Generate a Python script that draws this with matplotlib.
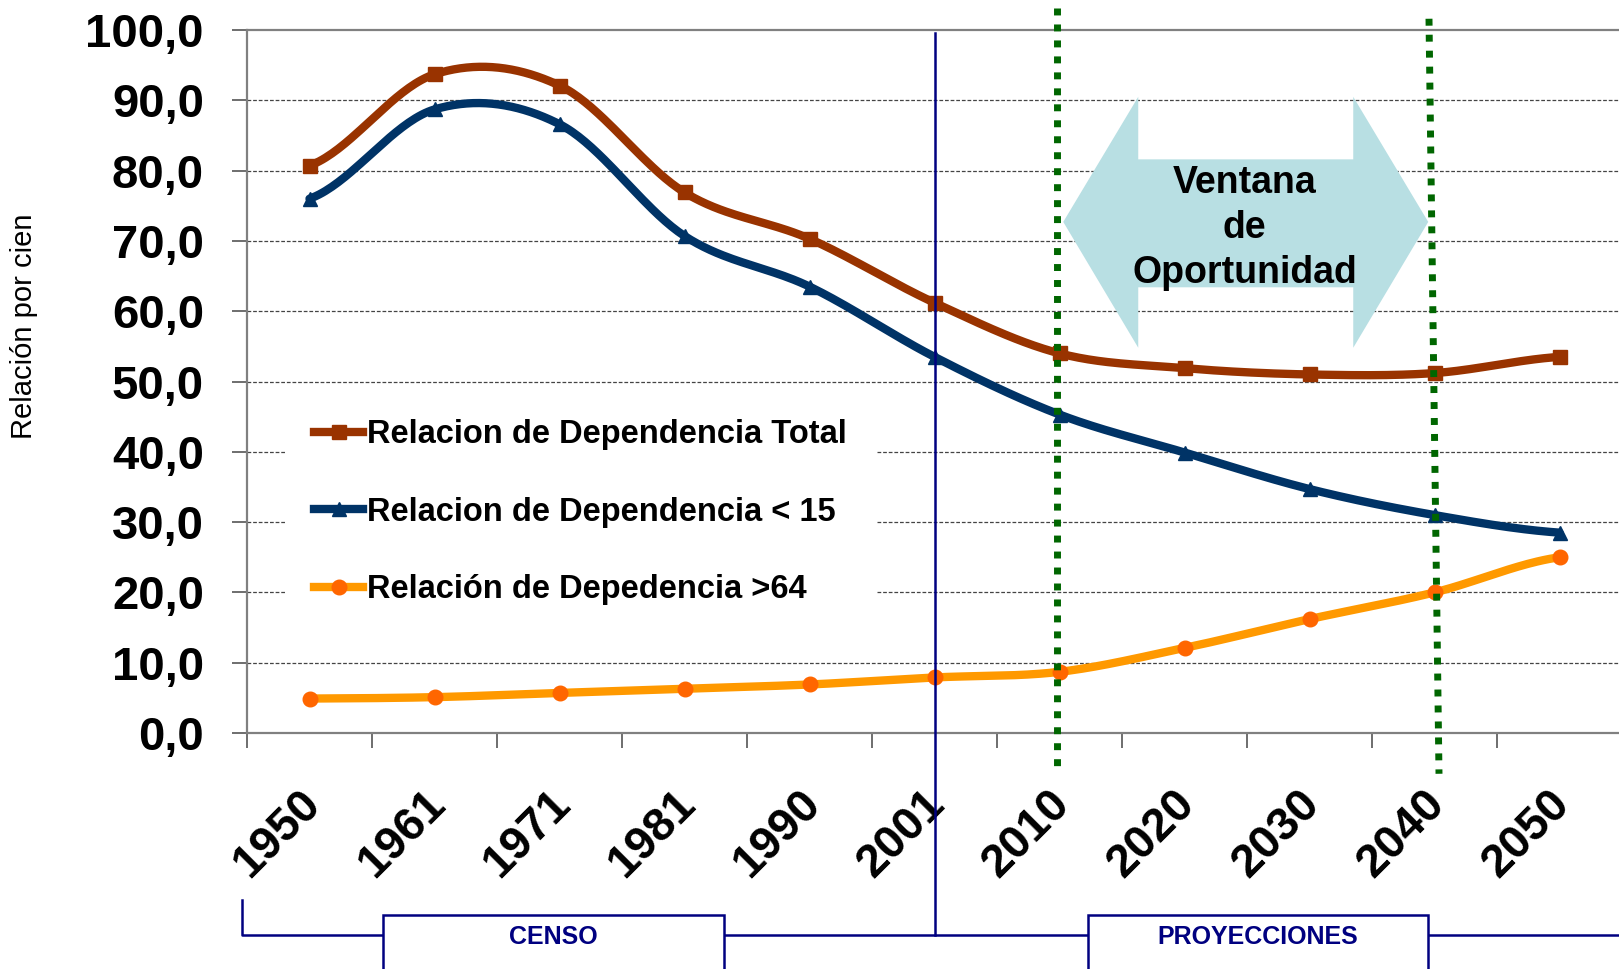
import numpy as np
import matplotlib
matplotlib.use("Agg")
import matplotlib.pyplot as plt
from matplotlib import transforms
from matplotlib.patches import Polygon, Rectangle
from matplotlib.lines import Line2D

plt.rcParams['font.family'] = ['Liberation Sans', 'DejaVu Sans']

# datos
anios = ['1950', '1961', '1971', '1981', '1990', '2001', '2010', '2020', '2030', '2040', '2050']
total = [80.7, 93.7, 92.1, 76.9, 70.3, 61.2, 54.0, 51.9, 51.0, 51.2, 53.5]
menor15 = [76.0, 88.7, 86.6, 70.7, 63.5, 53.5, 45.3, 39.9, 34.7, 31.0, 28.5]
mayor64 = [4.9, 5.1, 5.7, 6.3, 6.9, 7.9, 8.7, 12.1, 16.2, 20.0, 25.0]
yticks = [0, 10, 20, 30, 40, 50, 60, 70, 80, 90, 100]
ylabels = ['0,0', '10,0', '20,0', '30,0', '40,0', '50,0', '60,0', '70,0', '80,0', '90,0', '100,0']
nombres = ['Relacion de Dependencia Total', 'Relacion de Dependencia < 15', 'Relación de Depedencia >64']


def suavizar(v, n=40):
    # curva suavizada tipo excel (bezier con tangentes catmull-rom)
    v = np.asarray(v, float)
    p = np.concatenate([[v[0]], v, [v[-1]]])
    xs, ys = [], []
    t = np.linspace(0, 1, n)
    for i in range(len(v) - 1):
        b0 = p[i + 1]
        b3 = p[i + 2]
        b1 = b0 + (p[i + 2] - p[i]) / 6
        b2 = b3 - (p[i + 3] - p[i + 1]) / 6
        yy = (1 - t)**3 * b0 + 3 * t * (1 - t)**2 * b1 + 3 * t**2 * (1 - t) * b2 + t**3 * b3
        xs.append(i + t)
        ys.append(yy)
    return np.concatenate(xs), np.concatenate(ys)


fig = plt.figure(figsize=(16.19, 9.69), dpi=100)
ax = fig.add_axes([247/1619, 236/969, 1375/1619, 703/969])
x = np.arange(len(anios))

series = [(total, '#993300', '#993300', 's', 10.5),
          (menor15, '#003366', '#003366', '^', 10.5),
          (mayor64, '#FF9900', '#FF6600', 'o', 10.5)]
handles = []
for (vals, col, mcol, mk, ms), nom in zip(series, nombres):
    sx, sy = suavizar(vals)
    ax.plot(sx, sy, color=col, lw=6, solid_capstyle='round', zorder=5)
    ax.plot(x, vals, ls='none', marker=mk, ms=ms, color=mcol, zorder=6)
    handles.append(Line2D([], [], color=col, lw=6, marker=mk, ms=ms, mfc=mcol, mec=mcol))

ax.set_xlim(-0.5, 10.5)
ax.set_ylim(0, 100)
ax.set_yticks(yticks)
ax.set_yticklabels(ylabels, fontsize=34, fontweight='bold')
ax.set_xticks(np.arange(-0.5, 11, 1))
ax.set_xticklabels([])
ax.tick_params(axis='y', length=11, width=1.2, pad=20, color='#555555')
ax.tick_params(axis='x', length=11, width=1.2, color='#555555')
for yv in yticks[1:-1]:
    ax.axhline(yv, color='#444444', lw=0.9, ls=(0, (3, 1.5)), zorder=1)
for s in ['right']:
    ax.spines[s].set_visible(False)
for s in ['left', 'bottom', 'top']:
    ax.spines[s].set_color('#808080')
    ax.spines[s].set_linewidth(1.6)

# etiquetas de años rotadas
off = transforms.offset_copy(ax.get_xaxis_transform(), fig=fig, x=-8.5, y=-35, units='points')
for i, a in enumerate(anios):
    ax.text(i, 0, a, transform=off, rotation=45, rotation_mode='anchor',
            ha='right', va='top', fontsize=33.5, fontweight='bold')

fig.text(24/1619, 1 - 326/969, 'Relación por cien', rotation=90, ha='center', va='center',
         fontsize=21)

# flecha ventana de oportunidad
flecha = [(6.03, 72.7), (6.63, 90.5), (6.63, 81.6), (8.35, 81.6), (8.35, 90.5), (8.95, 72.7),
          (8.35, 54.8), (8.35, 63.4), (6.63, 63.4), (6.63, 54.8)]
ax.add_patch(Polygon(flecha, closed=True, fc='#b8dfe3', ec='none', zorder=3))
ax.text(7.48, 71.8, 'Ventana\nde\nOportunidad', ha='center', va='center', fontsize=27,
        fontweight='bold', linespacing=1.33, zorder=4)

# lineas verdes punteadas
ax.plot([5.98, 5.98], [103.1, -5.0], color='#006600', lw=5, ls=(0, (1, 1.3)), clip_on=False, zorder=8)
ax.plot([8.956, 9.036], [101.6, -5.8], color='#006600', lw=5, ls=(0, (1, 1.3)), clip_on=False, zorder=8)

# leyenda
leg = ax.legend(handles, nombres, loc='upper left', bbox_to_anchor=(0.0276, 0.488),
                borderaxespad=0, borderpad=0.9, frameon=True, fancybox=False, framealpha=1,
                edgecolor='none', facecolor='white', handlelength=1.5, handletextpad=0.1,
                labelspacing=1.42, prop={'size': 23.5, 'weight': 'bold'})
leg.set_zorder(7)

# censo / proyecciones
bt = transforms.blended_transform_factory(ax.transData, fig.transFigure)
yb = 1 - 935/969
ax.plot([5, 5], [1 - 33/969, yb], transform=bt, color='#000080', lw=1.8, clip_on=False, zorder=9)
ax.plot([-0.54, -0.54, 10.6], [1 - 900/969, yb, yb], transform=bt, color='#000080', lw=1.8, clip_on=False)
for x0, x1, txt in [(0.588, 3.316, 'CENSO'), (6.228, 8.948, 'PROYECCIONES')]:
    ax.add_patch(Rectangle((x0, -0.05), x1 - x0, (1 - 915/969) + 0.05, transform=bt, fc='white',
                           ec='#000080', lw=1.8, clip_on=False, zorder=10))
    ax.text((x0 + x1) / 2, 1 - 937/969, txt, transform=bt, ha='center', va='center', fontsize=18,
            fontweight='bold', color='#000080', zorder=11)

fig.savefig('out.png', dpi=100)
